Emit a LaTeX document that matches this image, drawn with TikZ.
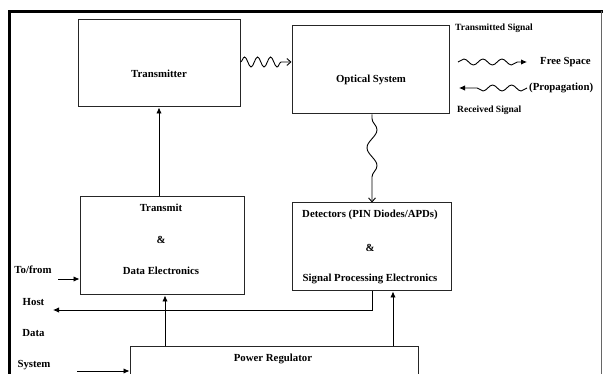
\documentclass[tikz,border=0pt]{standalone}
\usepackage{fontspec}
\setmainfont{Liberation Serif}
\usetikzlibrary{arrows.meta,decorations.pathmorphing,calc}
\begin{document}
\begin{tikzpicture}[x=1pt,y=-1pt,
  box/.style={draw=black!85,line width=1pt,inner sep=0pt},
  lbl/.style={font=\fontsize{10.8}{12}\selectfont\bfseries,inner sep=0pt},
  arr/.style={line width=0.9pt,-{Latex[length=6pt,width=5.5pt]}},
  wavy/.style={line width=0.9pt,decorate},
]
\useasboundingbox (0,0) rectangle (603,374);
\clip (0,0) rectangle (603,374);
% outer frame
\draw[line width=3.2pt] (9.5,376) -- (9.5,11.5) -- (603,11.5);
\draw[line width=0.7pt,black!60] (601.5,11.5) -- (601.5,376);
% boxes
\node[box,minimum width=162pt,minimum height=87pt] (tx) at (159,63.5) {};
\node[lbl] (txl) at (159,74) {Transmitter};
\node[box,minimum width=157pt,minimum height=88pt] (opt) at (370.5,70) {};
\node[lbl] (optl) at (371,80) {Optical System};
\node[box,minimum width=164pt,minimum height=98pt] (tde) at (162,246) {};
\node[lbl] (tde1) at (161,208) {Transmit};
\node[lbl] (tde2) at (161,240) {\&};
\node[lbl] (tde3) at (161,271) {Data Electronics};
\node[box,minimum width=159pt,minimum height=88pt] (det) at (371.5,247) {};
\node[lbl] (det1) at (370,215) {Detectors (PIN Diodes/APDs)};
\node[lbl] (det2) at (370,248) {\&};
\node[lbl] (det3) at (370,279) {Signal Processing Electronics};
\node[box,minimum width=288pt,minimum height=50pt] (pwr) at (274,372) {};
\node[lbl] (pwrl) at (273,359) {Power Regulator};
% left labels
\node[lbl] (tf) at (33,270) {To/from};
\node[lbl] (host) at (33.5,302) {Host};
\node[lbl] (data) at (33.5,333) {Data};
\node[lbl] (sys) at (34,365) {System};
% legend
\node[lbl,anchor=west,font=\fontsize{9.5}{11}\selectfont\bfseries] (ts) at (455,28) {Transmitted Signal};
\node[lbl,anchor=west] (fs) at (540,62) {Free Space};
\node[lbl,anchor=west] (prop) at (529,88) {(Propagation)};
\node[lbl,anchor=west,font=\fontsize{9.5}{11}\selectfont\bfseries] (rs) at (457,110) {Received Signal};
\coordinate (la) at (458,62);
\coordinate (lb) at (527,62);
\coordinate (lc) at (527,88);
\coordinate (ld) at (459,88);
\draw[wavy,decoration={snake,segment length=19pt,amplitude=3pt,post length=9pt},-{Latex[length=6pt,width=5.5pt]}] (la) -- (lb);
\draw[wavy,decoration={snake,segment length=19pt,amplitude=3pt,post length=10pt},-{Latex[length=6pt,width=5.5pt]}] (lc) -- (ld);
% connectors
\draw[arr] (tx.south |- tde.north) -- (tx.south);
\draw[wavy,decoration={snake,segment length=13pt,amplitude=5pt,post length=9pt},-{Straight Barb[length=4pt,width=7pt]}] ([yshift=1.5pt]tx.east) -- ([yshift=1.5pt]tx.east -| opt.west);
\draw[wavy,decoration={snake,segment length=36pt,amplitude=5pt,pre length=4pt,post length=9pt},-{Straight Barb[length=4pt,width=7pt]}] ([xshift=1.5pt]opt.south) -- ([xshift=1.5pt]opt.south |- det.north);
\coordinate (hostend) at (53,310);
\draw[arr] ([xshift=0.5pt]det.south) |- (hostend);
\coordinate (tfs) at (58,279);
\draw[arr] (tfs) -- (tfs -| tde.west);
\coordinate (sys0) at (77,371);
\draw[arr] (sys0) -- (sys0 -| pwr.west);
\draw[arr] ([xshift=3pt]tde.south |- pwr.north) -- ([xshift=3pt]tde.south);
\draw[arr] ([xshift=21.5pt]det.south |- pwr.north) -- ([xshift=21.5pt]det.south);
\end{tikzpicture}
\end{document}
